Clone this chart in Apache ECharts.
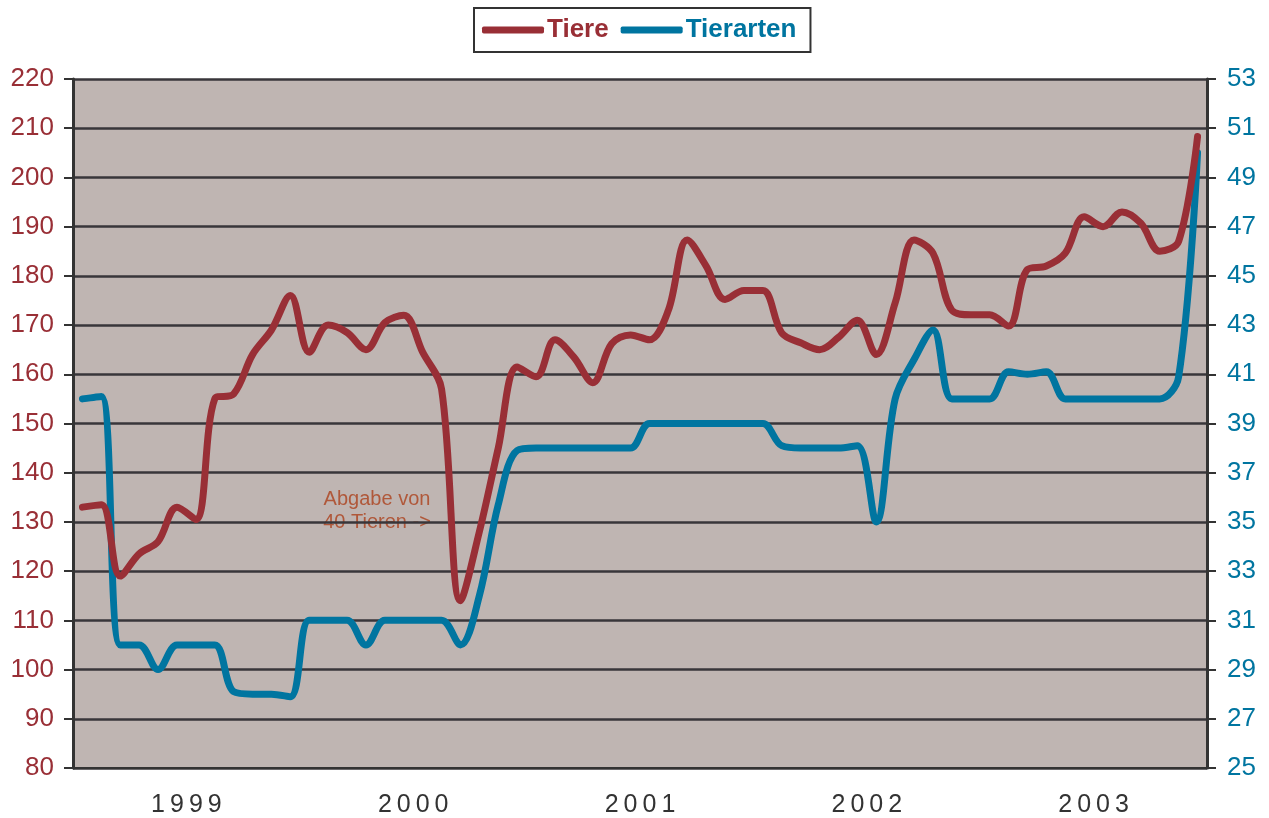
<!DOCTYPE html>
<html><head><meta charset="utf-8">
<script src="https://cdn.jsdelivr.net/npm/echarts@6/dist/echarts.min.js"></script>
<style>html,body{margin:0;padding:0;background:#fff}#c{width:1269px;height:818px}</style>
</head><body><div id="c"></div>
<script>
const years = ['1999','2000','2001','2002','2003'];
const months = Array.from({length:60},(_,i)=>String(i));
const tiere = [133,133.5,119,123.5,126,133,130.5,155,156,164,169,176,
  164.5,170,168.5,165,170.5,172,164.5,157,114,128,145,161.5,
  159.5,167,163.5,158.3,166.2,168,167,173,187.3,182,175.2,177,
  177,168.4,166.4,165,167.5,171,164,174.5,187.3,184.6,173,172.1,
  172.1,169.8,181.3,182,184.6,192,190,193,190.7,185,187,208.3];
const tierarten = [40,40.1,30,30,29,30,30,30,28.1,28,28,27.9,
  31,31,31,30,31,31,31,31,30,32,35.7,37.9,
  38,38,38,38,38,38,39,39,39,39,39,39,
  39,38.1,38,38,38,38.1,35,40,41.6,42.8,40,40,
  40,41.1,41,41.1,40,40,40,40,40,40,40.9,50];
const leftTicks = {min:80,max:220,interval:10};
const rightTicks = {min:25,max:53,interval:2};

const RED='#992f36', BLUE='#0075a0';
const FONT='Liberation Sans, Arial';
const chart = echarts.init(document.getElementById('c'));
chart.setOption({
  animation:false,
  backgroundColor:'#ffffff',
  legend:{
    top:8, left:474,
    backgroundColor:'#fff', borderColor:'#333', borderWidth:2,
    padding:[9,14,9,8], itemGap:12,
    icon:'roundRect', itemWidth:62, itemHeight:7,
    textStyle:{fontFamily:FONT, fontSize:26, fontWeight:'bold', padding:[0,0,0,-2]},
    data:[{name:'Tiere',textStyle:{color:RED}},{name:'Tierarten',textStyle:{color:BLUE}}]
  },
  grid:{left:73,right:62,top:79,bottom:49,show:true,backgroundColor:'#bfb5b2',borderWidth:0},
  xAxis:[
    {type:'category',data:months,boundaryGap:true,show:false},
    {type:'category',data:years,boundaryGap:true,position:'bottom',
     axisLine:{lineStyle:{color:'#333',width:2}},
     axisTick:{length:9,lineStyle:{color:'#333',width:2}},
     axisLabel:{color:'#333',fontSize:25,fontFamily:FONT,margin:25,
       formatter:v=>v.split('').join('\u2009')}}
  ],
  yAxis:[
    {type:'value',position:'left',...leftTicks,
     axisLine:{show:true,lineStyle:{color:'#333',width:3}},
     axisTick:{show:true,length:9,lineStyle:{color:'#333',width:2}},
     splitLine:{lineStyle:{color:'#38363a',width:2.5}},
     axisLabel:{color:RED,fontSize:26,fontFamily:FONT,margin:19}},
    {type:'value',position:'right',...rightTicks,
     axisLine:{show:true,lineStyle:{color:'#333',width:3}},
     axisTick:{show:true,length:9,lineStyle:{color:'#333',width:2}},
     splitLine:{show:false},
     axisLabel:{color:BLUE,fontSize:26,fontFamily:FONT,margin:20}}
  ],
  series:[
    {name:'Tiere',type:'line',xAxisIndex:0,yAxisIndex:0,data:tiere,smooth:0.35,
     showSymbol:false,lineStyle:{color:RED,width:7,cap:'round',join:'round'},itemStyle:{color:RED},z:3},
    {name:'Tierarten',type:'line',xAxisIndex:0,yAxisIndex:1,data:tierarten,smooth:0.35,
     showSymbol:false,lineStyle:{color:BLUE,width:7,cap:'round',join:'round'},itemStyle:{color:BLUE},z:2}
  ],
  graphic:[{type:'text',x:377,y:488,
    style:{text:'Abgabe von\n40 Tieren ->',fill:'#b0583a',fontSize:20,lineHeight:23,
      fontFamily:FONT,textAlign:'center'}}]
});
</script></body></html>
